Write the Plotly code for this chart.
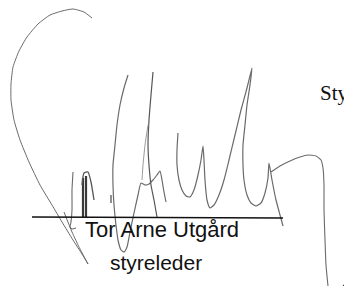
import plotly.graph_objects as go

# Signature strokes (pixel coordinates read from the scanned page)
arc_x = [92, 84, 73, 62, 50, 38, 27, 19, 13, 11, 11, 14, 20, 29, 40, 52, 62, 73, 82, 88]
arc_y = [18, 12, 9, 11, 15, 24, 37, 51, 67, 84, 100, 120, 140, 162, 185, 205, 222, 240, 254, 264]

leg_x = [64, 72, 80, 88]
leg_y = [212, 232, 249, 264]

t_x = [73, 72, 72, 71, 70, 72, 76]
t_y = [172, 190, 210, 222, 227, 229, 228]

bar1_x = [83, 83]
bar1_y = [178, 217]
bar2_x = [86, 86]
bar2_y = [176, 217]

hook_x = [82, 84, 88, 91, 94]
hook_y = [185, 173, 172, 182, 200]

a_x = [128, 124, 120, 117, 115, 113, 113, 114, 116, 118, 121, 124, 127, 130, 134, 138, 141,
       145, 149, 153, 157, 160, 162, 164, 166]
a_y = [75, 88, 105, 125, 145, 165, 185, 205, 225, 240, 250, 252, 247, 232, 213, 195, 183,
       185, 184, 180, 175, 171, 180, 192, 202]

tall_x = [153, 151, 149, 148, 149, 151, 154, 157]
tall_y = [72, 95, 120, 145, 165, 185, 200, 217]

faint_x = [148, 145, 143, 142]
faint_y = [125, 145, 165, 180]

tick_x = [111, 111]
tick_y = [195, 203]

u_x = [178, 177, 177, 179, 182, 186, 190, 194, 198, 201, 203,
       204, 205, 207, 210, 214, 219, 224, 229, 235, 241, 247, 252,
       250, 247, 245, 243, 243, 244, 247, 251, 256, 261, 265, 268, 269,
       272, 276, 280, 283]
u_y = [133, 150, 165, 180, 190, 196, 197, 190, 175, 160, 146,
       160, 180, 200, 208, 205, 195, 180, 160, 135, 110, 88, 68,
       85, 105, 125, 145, 165, 180, 195, 203, 206, 203, 193, 178, 163,
       180, 200, 215, 226]

tail_x = [271, 280, 290, 300, 308, 316, 321, 323, 324, 324, 325, 326, 328]
tail_y = [172, 166, 161, 157, 155, 156, 160, 168, 185, 210, 240, 265, 286]

corner_x = [343, 352]
corner_y = [286, 275]

rule_x = [32, 283]
rule_y = [217, 218]

name_text = "Tor Arne Utgård"
title_text = "styreleder"
side_text = "Sty"

fig = go.Figure()

def stroke(xs, ys, color="#6a6a6a", width=1.1, shape="spline"):
    fig.add_trace(go.Scatter(x=xs, y=ys, mode="lines",
                             line=dict(color=color, width=width, shape=shape, smoothing=0.5),
                             hoverinfo="skip", showlegend=False, cliponaxis=False))

stroke(arc_x, arc_y, width=1.0)
stroke(leg_x, leg_y, width=1.0)
stroke(t_x, t_y)
stroke(bar1_x, bar1_y, color="#3a3a3a", width=2.2, shape="linear")
stroke(bar2_x, bar2_y, color="#3a3a3a", width=2.2, shape="linear")
stroke(hook_x, hook_y, color="#555555", width=1.3)
stroke(a_x, a_y, width=1.2)
stroke(tall_x, tall_y, color="#555555", width=1.2)
stroke(faint_x, faint_y, color="#9a9a9a", width=1.0)
stroke(tick_x, tick_y, color="#555555", width=1.3, shape="linear")
stroke(u_x, u_y, width=1.2)
stroke(tail_x, tail_y, width=1.1)
stroke(corner_x, corner_y, color="#333333", width=1.0, shape="linear")
stroke(rule_x, rule_y, color="#111111", width=1.6, shape="linear")

fig.add_annotation(x=83, y=229, xref="x", yref="y", text=name_text, showarrow=False,
                   font=dict(family="Liberation Sans, Arial, sans-serif", size=22, color="#111111"),
                   xanchor="left", yanchor="middle")
fig.add_annotation(x=156, y=262, xref="x", yref="y", text=title_text, showarrow=False,
                   font=dict(family="Liberation Sans, Arial, sans-serif", size=21, color="#111111"),
                   xanchor="center", yanchor="middle")
fig.add_annotation(x=351, y=93, xref="x", yref="y", text=side_text, showarrow=False,
                   font=dict(family="Liberation Serif, Times New Roman, serif", size=21, color="#111111"),
                   xanchor="right", yanchor="middle")

# The page body has an 8 px margin, so the figure is 8 px smaller and the
# axes start at page pixel 8 to keep the marks where they sit in the scan.
fig.update_xaxes(range=[8, 352], visible=False, fixedrange=True)
fig.update_yaxes(range=[286, 8], visible=False, fixedrange=True)
fig.update_layout(width=344, height=278, margin=dict(l=0, r=0, t=0, b=0),
                  paper_bgcolor="white", plot_bgcolor="white", showlegend=False)

fig.write_html("out.html", config={"displayModeBar": False, "staticPlot": True})
